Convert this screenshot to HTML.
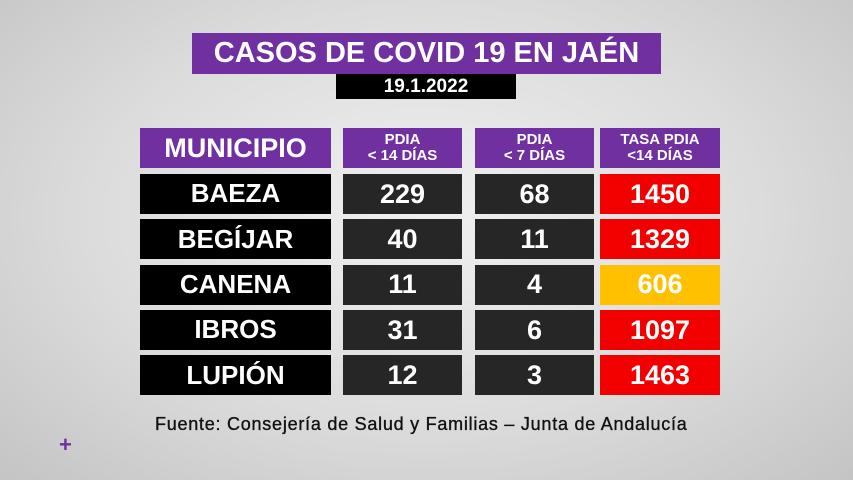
<!DOCTYPE html>
<html><head><meta charset="utf-8"><style>
body{margin:0;width:853px;height:480px;overflow:hidden;font-family:"Liberation Sans",sans-serif;}
#bg{position:absolute;left:0;top:0;width:853px;height:480px;background:radial-gradient(ellipse at 50% 45%,#f0f0f0 0%,#dcdcdc 55%,#c4c4c4 100%);}
.b{position:absolute;display:flex;align-items:center;justify-content:center;color:#fff;font-weight:bold;text-align:center;box-sizing:border-box;}
.p{background:#7030a0;}
.k{background:#000;}
.d{background:#262626;}
.r{background:#f20000;}
.y{background:#ffc000;}
</style></head><body>
<div id="bg"></div>
<div class="b p" style="left:192px;top:33px;width:469px;height:41px;font-size:29px;">CASOS DE COVID 19 EN JAÉN</div>
<div class="b k" style="left:336px;top:74px;width:180px;height:25px;font-size:19px;">19.1.2022</div>
<div id="tbl"></div>
<div style="position:absolute;left:155px;top:414px;font-size:18px;letter-spacing:0.75px;-webkit-text-stroke:0.35px #111;color:#111;white-space:nowrap;">Fuente: Consejería de Salud y Familias – Junta de Andalucía</div>
<div style="position:absolute;left:59px;top:432px;font-size:22px;color:#7030a0;font-weight:bold;">+</div>
<script>
const municipios=["BAEZA","BEGÍJAR","CANENA","IBROS","LUPIÓN"];
const pdia14=[229,40,11,31,12];
const pdia7=[68,11,4,6,3];
const tasa=[1450,1329,606,1097,1463];
const headers=["MUNICIPIO","PDIA<br>&lt; 14 DÍAS","PDIA<br>&lt; 7 DÍAS","TASA PDIA<br>&lt;14 DÍAS"];
const colX=[140,343,475,600],colW=[191,119,119,120];
const t=document.getElementById('tbl');
function box(cls,x,y,w,h,fs,html,name){
  const e=document.createElement('div');
  e.className='b '+cls;
  e.style.cssText=`left:${x}px;top:${y}px;width:${w}px;height:${h}px;font-size:${fs}px;line-height:1.05;`;
  e.innerHTML=html;
  
  
  t.appendChild(e);
}
headers.forEach((h,i)=>box('p',colX[i],128,colW[i],40,i==0?27:15,h,'header-'+i));
municipios.forEach((m,i)=>{
  const y=174+i*45.3;
  box('k',colX[0],y,colW[0],40,26,m,'municipio-'+i);
  box('d',colX[1],y,colW[1],40,27,pdia14[i],'pdia14-'+i);
  box('d',colX[2],y,colW[2],40,27,pdia7[i],'pdia7-'+i);
  box(tasa[i]>=1000?'r':'y',colX[3],y,colW[3],40,27,tasa[i],'tasa-'+i);
});
</script>
</body></html>
